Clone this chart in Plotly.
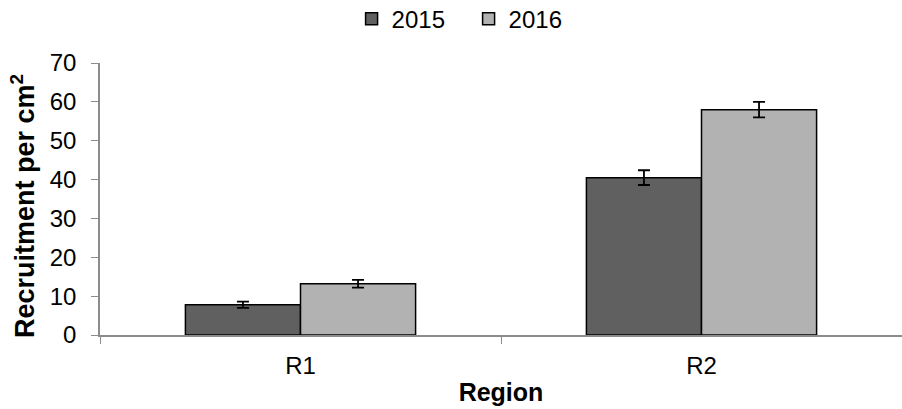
import plotly.graph_objects as go

regions = ["R1", "R2"]
years = ["2015", "2016"]
vals_2015 = [7.8, 40.5]
err_2015 = [0.8, 1.9]
vals_2016 = [13.2, 58.0]
err_2016 = [1.0, 2.0]
colors = {"2015": "#606060", "2016": "#b2b2b2"}

fig = go.Figure()
for yr, v, e in [("2015", vals_2015, err_2015), ("2016", vals_2016, err_2016)]:
    fig.add_trace(go.Bar(
        x=regions, y=v, name=yr,
        marker=dict(color=colors[yr], line=dict(color="black", width=1.5)),
        error_y=dict(type="data", array=e, color="black", thickness=1.8, width=6),
    ))

font = "Liberation Sans, Arial, sans-serif"
fig.update_layout(
    width=902, height=409,
    margin=dict(l=100, r=0, t=63, b=74),
    paper_bgcolor="white", plot_bgcolor="white",
    barmode="group", bargap=0.426, bargroupgap=0,
    font=dict(family=font, size=24, color="black"),
    legend=dict(orientation="h", x=0.5195, xanchor="center", xref="container",
                y=0.953, yanchor="middle", yref="container",
                font=dict(size=24), itemwidth=30, entrywidth=72,
                traceorder="normal"),
    showlegend=True,
)
fig.add_annotation(
    text="<b>Recruitment per cm<sup>2</sup></b>", textangle=-90,
    xref="paper", yref="paper", x=-0.096, y=0.474,
    xanchor="center", yanchor="middle", showarrow=False,
    font=dict(size=27, family=font, color="black"),
)
fig.update_xaxes(
    showline=True, linecolor="#8c8c8c", linewidth=1.5,
    ticks="outside", tickson="boundaries", ticklen=7, tickcolor="#8c8c8c",
    tickfont=dict(size=24), ticklabelstandoff=8,
    title=dict(text="<b>Region</b>", font=dict(size=25), standoff=6),
)
fig.update_yaxes(
    range=[0, 70], dtick=10, showgrid=False, zeroline=False,
    showline=True, linecolor="#8c8c8c", linewidth=1.5,
    ticks="outside", ticklen=7, tickcolor="#8c8c8c",
    tickfont=dict(size=24), ticklabelstandoff=10,
)
fig.write_html("out.html")
